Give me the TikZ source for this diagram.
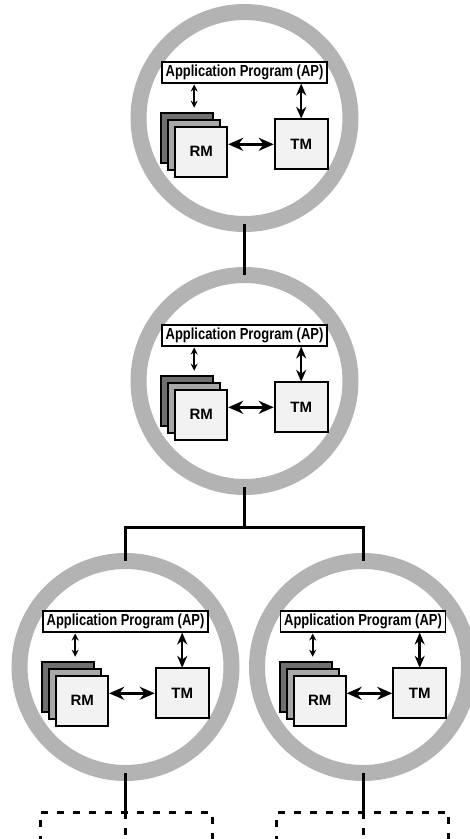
\documentclass[tikz,border=0pt]{standalone}
\usepackage{fontspec}
\setmainfont{Liberation Sans}
\usetikzlibrary{arrows.meta}
\definecolor{ringgray}{HTML}{B3B3B3}
\definecolor{rmdark}{HTML}{707070}
\definecolor{rmmid}{HTML}{A8A8A8}
\definecolor{boxlight}{HTML}{F2F2F2}
\tikzset{
  ring/.style={circle,draw=ringgray,line width=16pt,minimum size=212pt,inner sep=0pt,outer sep=0pt},
  apbox/.style={draw,line width=1.8pt,fill=white,minimum width=165pt,minimum height=21pt,inner sep=0pt,outer sep=0pt,
    font=\bfseries\fontsize{16}{16}\selectfont},
  mbox/.style={draw,line width=1.8pt,minimum width=52pt,minimum height=50pt,inner sep=0pt,outer sep=0pt,
    font=\bfseries\fontsize{15}{15}\selectfont},
  smallarrow/.style={line width=1.8pt,{Stealth[length=7pt,width=7pt]}-{Stealth[length=7pt,width=7pt]}},
  midarrow/.style={line width=2.5pt,{Stealth[length=12pt,width=10pt]}-{Stealth[length=12pt,width=10pt]}},
  bigarrow/.style={line width=3pt,{Stealth[length=15pt,width=13pt]}-{Stealth[length=15pt,width=13pt]}},
  link/.style={line width=3pt},
  dashedbox/.style={draw,line width=3pt,dash pattern=on 7pt off 9pt,minimum width=172pt,minimum height=80pt,inner sep=0pt,outer sep=0pt},
  dashedline/.style={line width=3pt,dash pattern=on 7pt off 9pt}
}
\newcommand\siteunit[3]{%
  \begin{scope}[shift={(#2,#3)}]
    \node[ring] (#1) at (0,0) {};
    \node[apbox] (#1ap) at (0,-45.5) {\scalebox{0.81}[1]{Application Program (AP)}};
    \node[mbox,fill=rmdark] (#1rmb) at (-57.3,19.7) {};
    \node[mbox,fill=rmmid] (#1rmm) at (-50.3,26.7) {};
    \node[mbox,fill=boxlight] (#1rmf) at (-43.3,33.7) {RM};
    \node[mbox,fill=boxlight,minimum width=53pt] (#1tm) at (56.7,26.3) {TM};
    \draw[smallarrow,shorten <=1.5pt,shorten >=5pt] (#1rmm.north |- #1ap.south) -- (#1rmm.north |- #1rmb.north);
    \draw[midarrow,shorten <=0.5pt,shorten >=0.5pt] (#1tm.north |- #1ap.south) -- (#1tm.north);
    \draw[bigarrow,shorten <=1pt,shorten >=1pt] (#1rmf.east |- #1tm.west) -- (#1tm.west);
  \end{scope}%
}
\begin{document}
\begin{tikzpicture}[x=1pt,y=-1pt]
  \clip (0,0) rectangle (470,839);
  \fill[white] (0,0) rectangle (470,839);
  \siteunit{ca}{244.5}{118}
  \siteunit{cb}{244.5}{381}
  \siteunit{cc}{125.5}{667}
  \siteunit{cd}{363}{667}
  \coordinate (j) at (244.5,527);
  \draw[link] (ca.south) -- (cb.north);
  \draw[link] (cb.south) -- (j);
  \draw[link] (cc.north) |- (j) -| (cd.north);
  \node[dashedbox] (dc) at (126,852) {};
  \node[dashedbox] (dd) at (362.5,852) {};
  \draw[link] (cc.south) -- (cc.south |- dc.north);
  \draw[link] (cd.south) -- (cd.south |- dd.north);
  \draw[dashedline] (cc.south |- dc.north) -- (cc.south |- dc.south);
  \draw[dashedline] (cd.south |- dd.north) -- (cd.south |- dd.south);
\end{tikzpicture}
\end{document}
